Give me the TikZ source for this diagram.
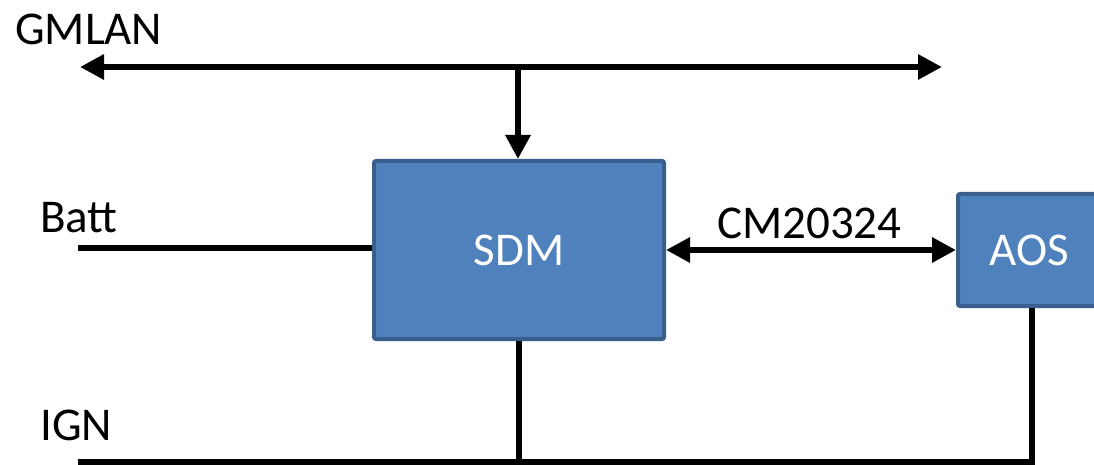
\documentclass[tikz,border=0pt]{standalone}
\usepackage{fontspec}
\setmainfont{Carlito}
\usetikzlibrary{arrows.meta}
\definecolor{boxfill}{HTML}{4F81BD}
\definecolor{boxedge}{HTML}{3A5F8D}
\begin{document}
\begin{tikzpicture}[x=1pt,y=-1pt,
  block/.style={draw=boxedge, line width=4pt, fill=boxfill, rounded corners=2pt,
    text=white, font=\fontsize{47}{54}\selectfont, inner sep=0pt},
  wire/.style={line width=6pt, black},
  tip/.style={-{Triangle[length=24pt,width=24pt]}},
  both/.style={{Triangle[length=24pt,width=24pt]}-{Triangle[length=24pt,width=24pt]}},
  lbl/.style={anchor=base west, inner sep=0pt, font=\fontsize{47}{54}\selectfont}]
  \useasboundingbox (0,0) rectangle (1094,465);
  \begin{scope}
  \clip (0,0) rectangle (1094,465);

  % control modules
  \node[block, minimum width=290pt, minimum height=178pt] (sdm) at (519,250) {SDM};
  \node[block, minimum width=142pt, minimum height=112pt] (aos) at (1029,250) {AOS};

  % GMLAN bus
  \coordinate (busL) at (80,67);
  \coordinate (busR) at (942,67);
  \coordinate (busT) at (518,67);
  \draw[wire, both] (busL) -- (busR);
  \draw[wire, tip] (busT) -- (busT |- sdm.north);

  % battery feed
  \coordinate (battL) at (78,248);
  \draw[wire] (battL) -- (battL -| sdm.west);

  % serial link between SDM and AOS
  \draw[wire, both] (sdm.east) -- (aos.west);

  % ignition feed
  \coordinate (ignL) at (78,462);
  \coordinate (aosD) at (1032,307);
  \draw[wire] (sdm.south) -- (sdm.south |- ignL);
  \draw[wire] (aos.south -| aosD) -- (aosD |- ignL);
  \draw[wire] (ignL) -- ([xshift=3pt]aosD |- ignL);
  \end{scope}

  % labels
  \node[lbl] (gmlan) at (15,45) {GMLAN};
  \node[lbl] (batt) at (40,232) {Batt};
  \node[lbl] (ign) at (40,440) {IGN};
  \node[lbl] (cm) at (717,238) {CM20324};
\end{tikzpicture}
\end{document}
